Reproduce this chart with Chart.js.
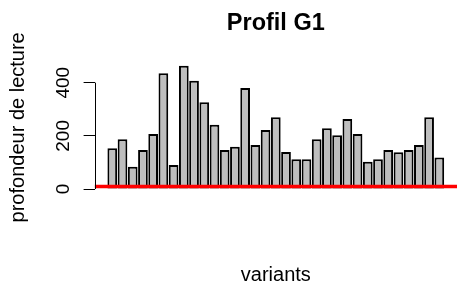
<!DOCTYPE html>
<html>
<head>
<meta charset="utf-8">
<title>Profil G1</title>
<script src="https://cdn.jsdelivr.net/npm/chart.js@4/dist/chart.umd.min.js"></script>
<style>
  body { margin: 0; background: #fff; }
  canvas { display: block; }
</style>
</head>
<body>
<canvas id="profilChart" width="457" height="287"></canvas>
<script>
'use strict';

let variants = ['v1','v2','v3','v4','v5','v6','v7','v8','v9','v10','v11',
                'v12','v13','v14','v15','v16','v17','v18','v19','v20','v21','v22',
                'v23','v24','v25','v26','v27','v28','v29','v30','v31','v32','v33'];
let profondeur = [153, 187, 84, 147, 207, 435, 90, 464, 407, 326, 242,
                  147, 159, 380, 166, 222, 270, 139, 112, 112, 187, 229,
                  202, 263, 207, 103, 112, 147, 138, 147, 166, 270, 119];
let yTicks = [0, 100, 200, 300, 400];
let yLabels = ['0', '', '200', '', '400'];
let seuil = 10;

// R barplot layout: width 1, space 0.2, axis range padded by 4%
let barSpace = 0.2;
let barPos = variants.map(function(v, i){ return barSpace + 0.5 + i * (1 + barSpace); });
let xLo = barSpace, xHi = variants.length * (1 + barSpace);
let xPad = (xHi - xLo) * 0.04;
let yMax = Math.max.apply(null, profondeur);
let yPad = yMax * 0.04;

let barData = profondeur.map(function(v, i){ return {x: barPos[i], y: v}; });
let lineData = [{x: xLo - xPad, y: seuil}, {x: xHi + xPad, y: seuil}];

let font = 'Liberation Sans, Arial, sans-serif';

// axis line only spans the tick range, like R's axis()
let axisLine = {
  id: 'axisLine',
  afterDraw: function(chart){
    let ctx = chart.ctx, y = chart.scales.y;
    let x = Math.round(chart.chartArea.left) + 0.5;
    ctx.save();
    ctx.strokeStyle = '#000';
    ctx.lineWidth = 1;
    ctx.beginPath();
    ctx.moveTo(x, y.getPixelForValue(yTicks[0]));
    ctx.lineTo(x, y.getPixelForValue(yTicks[yTicks.length - 1]));
    ctx.stroke();
    ctx.restore();
  }
};

new Chart(document.getElementById('profilChart'), {
  type: 'bar',
  data: {
    datasets: [
      {
        type: 'line',
        data: lineData,
        borderColor: '#ff0000',
        borderWidth: 3.5,
        pointRadius: 0,
        order: 0
      },
      {
        data: barData,
        backgroundColor: '#bebebe',
        borderColor: '#000',
        borderWidth: 2,
        borderSkipped: false,
        // border sits inside the bar here, so widen a bit to match R's outer edge
        barPercentage: 0.95,
        categoryPercentage: 1,
        order: 1
      }
    ]
  },
  options: {
    responsive: false,
    animation: false,
    devicePixelRatio: 1,
    layout: { padding: 0 },
    plugins: {
      legend: { display: false },
      tooltip: { enabled: false },
      title: {
        display: true,
        text: 'Profil G1',
        fullSize: false,
        color: '#000',
        font: { family: font, size: 23.5, weight: 'bold', lineHeight: 1.2 },
        padding: { top: 9, bottom: 23.5 }
      }
    },
    scales: {
      x: {
        type: 'linear',
        offset: false,
        min: xLo - xPad,
        max: xHi + xPad,
        grid: { display: false },
        border: { display: false },
        ticks: { display: false },
        title: {
          display: true,
          text: 'variants',
          color: '#000',
          font: { family: font, size: 20, lineHeight: 1.2 },
          padding: 0
        },
        afterFit: function(scale){ scale.height = 93; }
      },
      y: {
        min: -yPad,
        max: yMax + yPad,
        afterBuildTicks: function(scale){
          scale.ticks = yTicks.map(function(v){ return {value: v}; });
        },
        grid: {
          drawOnChartArea: false,
          drawTicks: true,
          tickLength: 11,
          color: '#000'
        },
        border: { display: false },
        ticks: {
          minRotation: 90,
          maxRotation: 90,
          crossAlign: 'center',
          padding: 4,
          color: '#000',
          font: { family: font, size: 19 },
          callback: function(value, index){ return yLabels[index]; }
        },
        title: {
          display: true,
          text: 'profondeur de lecture',
          color: '#000',
          font: { family: font, size: 20, lineHeight: 1.2 },
          padding: { top: 6.5, bottom: 0 }
        },
        afterFit: function(scale){ scale.width = 94.6; }
      }
    }
  },
  plugins: [axisLine]
});
</script>
</body>
</html>
